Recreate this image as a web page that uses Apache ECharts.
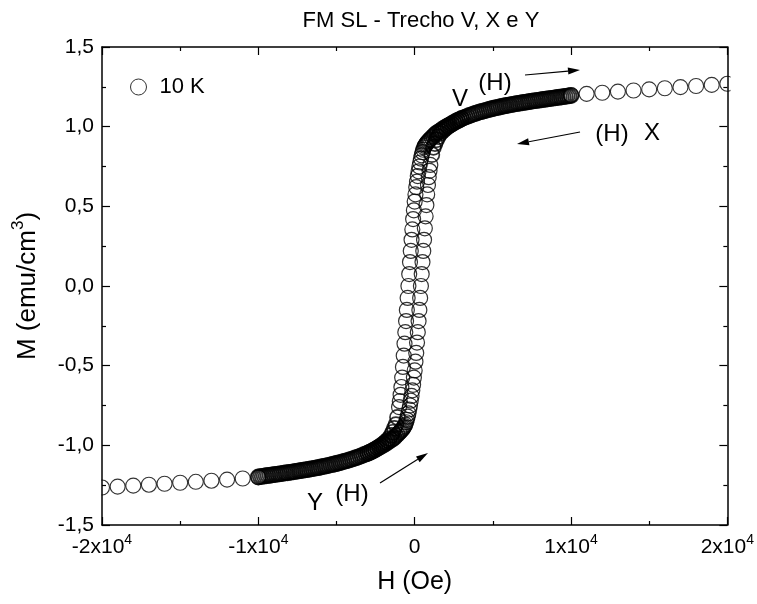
<!DOCTYPE html>
<html><head><meta charset="utf-8">
<script src="https://cdn.jsdelivr.net/npm/echarts@6/dist/echarts.min.js"></script>
<style>html,body{margin:0;padding:0;background:#fff}#c{width:757px;height:604px}</style>
</head><body><div id="c"></div>
<script>
const chartTitle = 'FM SL - Trecho V, X e Y';
const seriesName = '10 K';
const xAxisName = 'H (Oe)';
const yAxisNameParts = ['M (emu/cm', '3', ')'];

// Sparse measured points at high field (both sweeps coincide)
const tailH = [-20000,-19000,-18000,-17000,-16000,-15000,-14000,-13000,-12000,-11000,-10000,
               10000,11000,12000,13000,14000,15000,16000,17000,18000,19000,20000];
const tailM = [-1.265,-1.259,-1.253,-1.247,-1.241,-1.235,-1.229,-1.222,-1.215,-1.208,-1.201,
               1.199,1.206,1.213,1.220,1.227,1.234,1.241,1.248,1.255,1.262,1.269];

// Dense band, negative field (branches coincide)
const bandNegH = [-10000,-9875,-9750,-9625,-9500,-9375,-9250,-9125,-9000,-8875,-8750,-8625,-8500,-8375,-8250,-8125,
  -8000,-7875,-7750,-7625,-7500,-7375,-7250,-7125,-7000,-6875,-6750,-6625,-6500,-6375,-6250,-6125,
  -6000,-5875,-5750,-5625,-5500,-5375,-5250,-5125,-5000,-4875,-4750,-4625,-4500,-4375,-4250,-4125,
  -4000,-3875,-3750,-3625,-3500,-3375,-3250,-3125];
const bandNegM = [-1.198,-1.196,-1.195,-1.193,-1.191,-1.189,-1.188,-1.186,-1.184,-1.182,-1.181,-1.179,-1.177,-1.175,-1.173,-1.172,
  -1.170,-1.168,-1.166,-1.164,-1.162,-1.160,-1.158,-1.156,-1.154,-1.152,-1.150,-1.148,-1.146,-1.143,-1.141,-1.139,
  -1.136,-1.134,-1.131,-1.129,-1.126,-1.123,-1.120,-1.117,-1.114,-1.111,-1.108,-1.104,-1.101,-1.097,-1.094,-1.090,
  -1.086,-1.082,-1.078,-1.074,-1.069,-1.064,-1.059,-1.054];

// Dense band, positive field (branches coincide)
const bandPosH = [3125,3250,3375,3500,3625,3750,3875,4000,4125,4250,4375,4500,4625,4750,4875,5000,
  5125,5250,5375,5500,5625,5750,5875,6000,6125,6250,6375,6500,6625,6750,6875,7000,
  7125,7250,7375,7500,7625,7750,7875,8000,8125,8250,8375,8500,8625,8750,8875,9000,
  9125,9250,9375,9500,9625,9750,9875,10000];
const bandPosM = [1.055,1.060,1.065,1.070,1.074,1.079,1.083,1.087,1.091,1.094,1.098,1.101,1.104,1.108,1.111,1.114,
  1.117,1.120,1.122,1.125,1.128,1.130,1.133,1.135,1.137,1.140,1.142,1.144,1.146,1.148,1.150,1.152,
  1.154,1.156,1.158,1.160,1.162,1.164,1.165,1.167,1.169,1.171,1.172,1.174,1.176,1.178,1.179,1.181,
  1.183,1.185,1.186,1.188,1.190,1.192,1.193,1.195];

// Loop region: field values and the two sweep branches
const loopH = [-3000,-2875,-2750,-2625,-2500,-2375,-2250,-2125,-2000,-1875,-1750,-1625,
  -1500,-1400,-1300,-1200,-1100,
  -1000,-950,-900,-850,-800,-750,-700,-650,-600,-550,-500,-450,-400,-350,-300,-250,-200,-150,-100,-50,
  0,50,100,150,200,250,300,350,400,450,500,550,600,650,700,750,800,850,900,950,1000,
  1100,1200,1300,1400,1500,
  1625,1750,1875,2000,2125,2250,2375,2500,2625,2750,2875,3000];
// Y: increasing-field sweep
const loopUpM = [-1.050,-1.045,-1.039,-1.033,-1.026,-1.019,-1.012,-1.005,-0.999,-0.991,-0.983,-0.974,
  -0.966,-0.960,-0.952,-0.940,-0.931,
  -0.922,-0.917,-0.912,-0.906,-0.900,-0.894,-0.887,-0.879,-0.870,-0.855,-0.840,-0.820,-0.800,-0.775,-0.750,-0.720,-0.690,-0.655,-0.620,-0.575,
  -0.530,-0.475,-0.420,-0.355,-0.290,-0.220,-0.150,-0.075,0.000,0.075,0.150,0.220,0.290,0.362,0.437,0.508,0.575,0.634,0.683,0.723,0.760,
  0.824,0.870,0.894,0.918,0.937,
  0.957,0.969,0.980,0.991,1.000,1.008,1.016,1.024,1.030,1.037,1.043,1.050];
// X: decreasing-field sweep
const loopDownM = [-1.050,-1.043,-1.037,-1.030,-1.024,-1.016,-1.008,-1.000,-0.991,-0.980,-0.969,-0.957,
  -0.937,-0.918,-0.894,-0.870,-0.824,
  -0.760,-0.723,-0.683,-0.634,-0.575,-0.508,-0.437,-0.362,-0.290,-0.220,-0.150,-0.075,0.000,0.075,0.150,0.220,0.290,0.355,0.420,0.475,
  0.530,0.575,0.620,0.655,0.690,0.720,0.750,0.775,0.800,0.820,0.840,0.855,0.870,0.879,0.887,0.894,0.900,0.906,0.912,0.917,0.922,
  0.931,0.940,0.952,0.960,0.966,
  0.974,0.983,0.991,0.999,1.005,1.012,1.019,1.026,1.033,1.039,1.045,1.050];

const FF = '"Liberation Sans", Arial, sans-serif';
const zip = (a, b) => a.map((v, i) => [v, b[i]]);

const chart = echarts.init(document.getElementById('c'), null, {renderer: 'canvas'});

function sc(data, bw) {
  return {type: 'scatter', name: seriesName, data: data, symbol: 'circle', symbolSize: 15,
          itemStyle: {color: 'rgba(255,255,255,0)', borderColor: '#000', borderWidth: bw},
          clip: false, emphasis: {disabled: true}, z: 2, large: false};
}
// loop points: heavier outline where the points crowd together (knees)
function loopData(hs, ms) {
  return hs.map((h, i) => Math.abs(h) >= 1100
    ? {value: [h, ms[i]], itemStyle: {borderWidth: 1.7}}
    : [h, ms[i]]);
}

function arrow(x1, y1, x2, y2) {
  const a = Math.atan2(y2 - y1, x2 - x1), L = 12, W = 3.5;
  const c = Math.cos(a), s = Math.sin(a);
  const bx = x2 - L * c, by = y2 - L * s;
  return [
    {type: 'line', z: 20, shape: {x1: x1, y1: y1, x2: bx, y2: by}, style: {stroke: '#000', lineWidth: 1.2}},
    {type: 'polygon', z: 20, shape: {points: [[x2, y2], [bx + W * s, by - W * c], [bx - W * s, by + W * c]]}, style: {fill: '#000'}}
  ];
}
function label(t, x, y, size) {
  return {type: 'text', z: 20, x: x, y: y, style: {text: t, fill: '#000', font: (size || 24) + 'px ' + FF, textAlign: 'center', textVerticalAlign: 'middle'}};
}

const axisCommon = {
  axisLine: {show: true, onZero: false, lineStyle: {color: '#000', width: 1.5}},
  axisTick: {show: true, inside: true, length: 8, lineStyle: {color: '#000', width: 1.2}},
  minorTick: {show: true, splitNumber: 2, length: 4, lineStyle: {color: '#000', width: 1.2}},
  splitLine: {show: false},
  z: 10
};

const option = {
  animation: false,
  backgroundColor: '#fff',
  title: {text: chartTitle, left: 416, top: 5, textAlign: 'center',
          textStyle: {fontFamily: FF, fontSize: 22, fontWeight: 'normal', color: '#000'}},
  legend: {data: [{name: seriesName, icon: 'circle'}], left: 130, top: 76, padding: 0, itemWidth: 16, itemHeight: 16,
           itemStyle: {color: '#fff', borderColor: '#000', borderWidth: 1},
           textStyle: {fontFamily: FF, fontSize: 22, color: '#000', padding: [0, 0, 0, 8]}},
  grid: {left: 102, right: 27, top: 47, bottom: 79},
  xAxis: [
    Object.assign({type: 'value', position: 'bottom', min: -20000, max: 20000, interval: 10000,
      name: xAxisName, nameLocation: 'middle', nameGap: 45,
      nameTextStyle: {fontFamily: FF, fontSize: 25, color: '#000'},
      axisLabel: {margin: 8, color: '#000',
        formatter: v => v === 0 ? '{b|0}' : '{b|' + (v / 10000) + 'x10}{sup|4}',
        rich: {b: {fontFamily: FF, fontSize: 21, lineHeight: 29, color: '#000'},
               sup: {fontFamily: FF, fontSize: 14, lineHeight: 14, verticalAlign: 'top', color: '#000'}}}
    }, axisCommon),
    Object.assign({type: 'value', position: 'top', min: -20000, max: 20000, interval: 10000,
      axisLabel: {show: false}}, axisCommon)
  ],
  yAxis: [
    Object.assign({type: 'value', position: 'left', min: -1.5, max: 1.5, interval: 0.5,
      name: '{b|' + yAxisNameParts[0] + '}{sup|' + yAxisNameParts[1] + '}{b|' + yAxisNameParts[2] + '}',
      nameLocation: 'middle', nameGap: 56, nameRotate: 90,
      nameTextStyle: {rich: {b: {fontFamily: FF, fontSize: 26, lineHeight: 36, color: '#000'},
                             sup: {fontFamily: FF, fontSize: 17, lineHeight: 17, verticalAlign: 'top', color: '#000'}}},
      axisLabel: {margin: 8, color: '#000', fontFamily: FF, fontSize: 21,
        formatter: v => v.toFixed(1).replace('.', ',')}
    }, axisCommon),
    Object.assign({type: 'value', position: 'right', min: -1.5, max: 1.5, interval: 0.5,
      axisLabel: {show: false}}, axisCommon)
  ],
  series: [
    sc(zip(bandNegH, bandNegM), 1.8),
    sc(loopData(loopH, loopDownM), 1.2),
    sc(loopData(loopH, loopUpM), 1.2),
    sc(zip(bandPosH, bandPosM), 1.8),
    sc(zip(tailH, tailM), 1.1)
  ],
  graphic: {elements: [
    {type: 'rect', z: 5, shape: {x: 0, y: 47, width: 101.5, height: 478}, style: {fill: '#fff'}},
    {type: 'rect', z: 5, shape: {x: 730.5, y: 47, width: 30, height: 478}, style: {fill: '#fff'}},
    label('V', 460, 99), label('(H)', 495, 83),
    ...arrow(525, 75, 580, 70),
    label('(H)', 612, 134), label('X', 652, 133),
    ...arrow(580, 132, 517, 144),
    label('Y', 315, 503), label('(H)', 352, 494),
    ...arrow(380, 483, 428, 453)
  ]}
};
chart.setOption(option);
</script>
</body></html>
